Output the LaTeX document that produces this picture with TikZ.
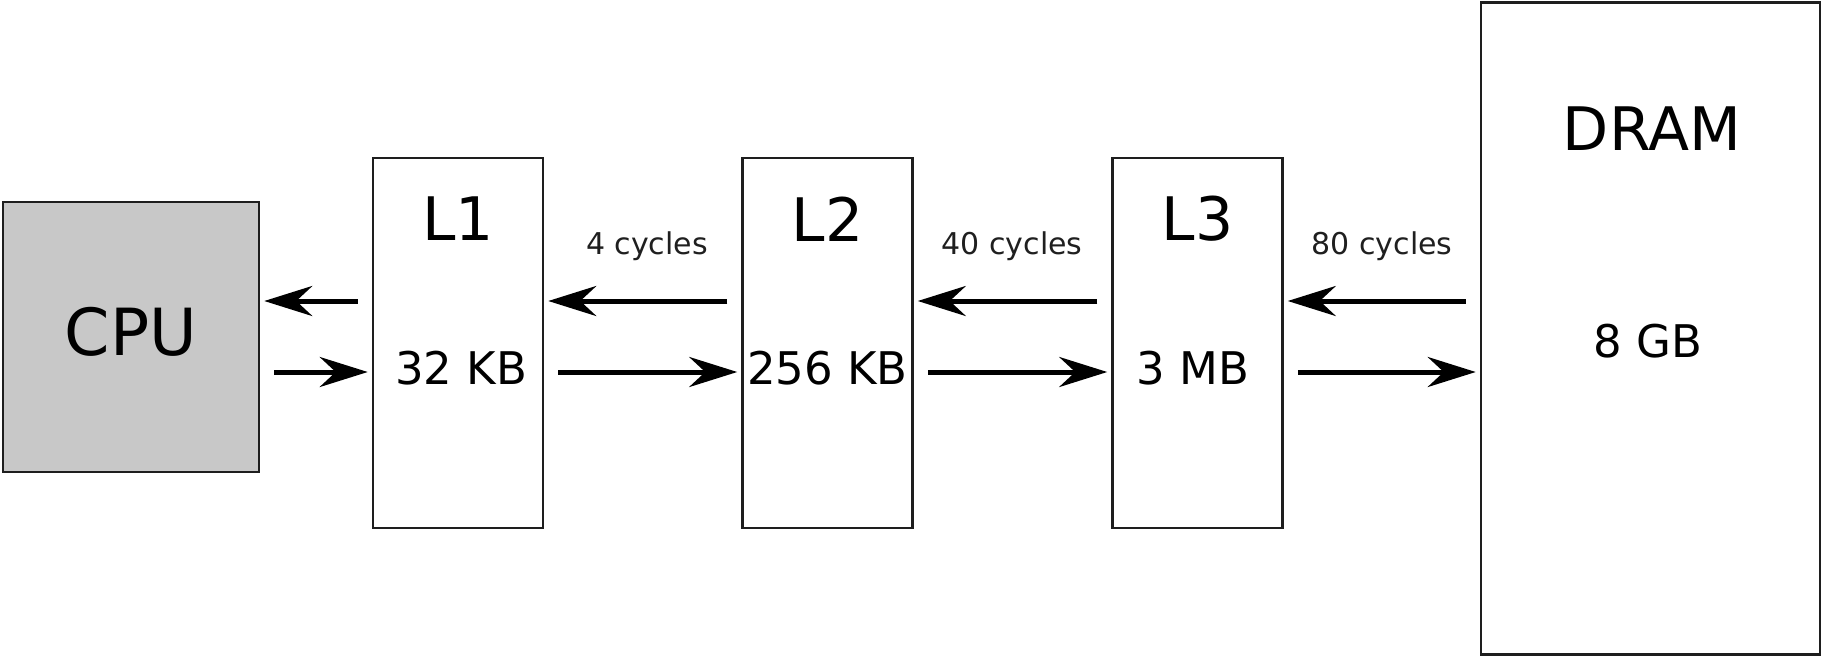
\documentclass[tikz,border=0pt]{standalone}
\usepackage{fontspec}
\setmainfont{DejaVu Sans}
\usetikzlibrary{arrows.meta}
\definecolor{cpugray}{HTML}{C8C8C8}
\definecolor{edge}{HTML}{1E1E1E}
\tikzset{
  box/.style={draw=edge, line width=2.5pt, inner sep=0pt},
  cachebox/.style={box, minimum width=170pt, minimum height=370pt},
  cpubox/.style={box, fill=cpugray, minimum width=256pt, minimum height=270pt},
  cputext/.style={font=\fontsize{65}{78}\selectfont, inner sep=0pt},
  title/.style={font=\fontsize{60}{72}\selectfont, inner sep=0pt},
  size/.style={font=\fontsize{45}{54}\selectfont, inner sep=0pt},
  lat/.style={font=\fontsize{30}{36}\selectfont, anchor=base, inner sep=0pt, text=black!88},
  arr/.style={line width=5pt, shorten <=14pt, shorten >=4pt,
    -{Stealth[length=48pt, width=30pt, inset=16pt]}},
}
\begin{document}
\begin{tikzpicture}[x=1pt, y=-1pt]
\useasboundingbox (0,0) rectangle (1826,657);

% memory hierarchy blocks
\node[cpubox] (CPU) at (131,337) {};
\node[cachebox] (L1) at (458,343) {};
\node[cachebox] (L2) at (827.5,343) {};
\node[cachebox] (L3) at (1197.5,343) {};
\node[box, minimum width=339pt, minimum height=652pt] (DRAM) at (1650.5,328.5) {};

% block captions
\node[cputext] (cpuname) at (131,332) {CPU};
\node[title] (l1name) at (458,219) {L1};
\node[title] (l2name) at (827.5,219) {L2};
\node[title] (l3name) at (1197.5,219) {L3};
\node[title] (dramname) at (1652,129) {DRAM};
\node[size] (l1size) at (461,368) {32 KB};
\node[size] (l2size) at (827.5,368) {256 KB};
\node[size] (l3size) at (1193,368) {3 MB};
\node[size] (dramsize) at (1648,341) {8 GB};

% access latencies
\node[lat] (lat2) at (647,254) {4 cycles};
\node[lat] (lat3) at (1012,254) {40 cycles};
\node[lat] (lat4) at (1382,254) {80 cycles};

% request / response rows
\coordinate (up) at (0,301);
\coordinate (dn) at (0,372);

\draw[arr] (L1.west |- up) -- (CPU.east |- up);
\draw[arr] (CPU.east |- dn) -- (L1.west |- dn);
\draw[arr] (L2.west |- up) -- (L1.east |- up);
\draw[arr] (L1.east |- dn) -- (L2.west |- dn);
\draw[arr] (L3.west |- up) -- (L2.east |- up);
\draw[arr] (L2.east |- dn) -- (L3.west |- dn);
\draw[arr] (DRAM.west |- up) -- (L3.east |- up);
\draw[arr] (L3.east |- dn) -- (DRAM.west |- dn);
\end{tikzpicture}
\end{document}
